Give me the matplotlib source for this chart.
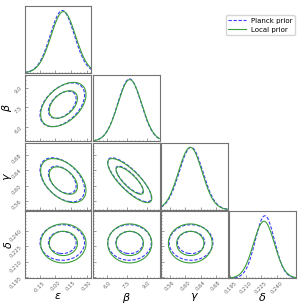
import numpy as np
import matplotlib
matplotlib.use('Agg')
import matplotlib.pyplot as plt
from matplotlib.ticker import AutoMinorLocator
from matplotlib.lines import Line2D

# Parameters and posterior summaries
labels = [r'$\varepsilon$', r'$\beta$', r'$\gamma$', r'$\delta$']
planck_mean = [0.066, 7.70, 0.615, 0.2285]
planck_std = [0.115, 0.90, 0.031, 0.0093]
local_mean = [0.076, 7.72, 0.613, 0.2276]
local_std = [0.117, 0.91, 0.031, 0.0102]
# pairwise correlations (i, j, rho)
corr_pairs = [(0, 1, 0.45), (0, 2, -0.45), (1, 2, -0.80),
              (0, 3, 0.0), (1, 3, 0.0), (2, 3, 0.0)]
axis_lo = [-0.29, 4.92, 0.537, 0.194]
axis_hi = [0.345, 10.0, 0.711, 0.2586]
tick_vals = [[-0.15, 0.00, 0.15, 0.30],
             [6.0, 7.5, 9.0],
             [0.56, 0.60, 0.64, 0.68],
             [0.195, 0.210, 0.225, 0.240]]
tick_fmt = ['%.2f', '%.1f', '%.2f', '%.3f']
levels_r = [1.15, 1.85]

series = [
    dict(name='Planck prior', mean=planck_mean, std=planck_std,
         color='#3b3bff', ls=(0, (3, 1.5)), lw=0.8),
    dict(name='Local prior', mean=local_mean, std=local_std,
         color='#3a9e3a', ls='-', lw=0.8),
]
rho = {}
for i, j, r in corr_pairs:
    rho[(i, j)] = r
    rho[(j, i)] = r

n = len(labels)
fig = plt.figure(figsize=(3.05, 3.07), dpi=100)
axes = fig.subplots(n, n, gridspec_kw=dict(left=0.082, right=0.970, bottom=0.094,
                                           top=0.980, wspace=0.025, hspace=0.025))

for row in range(n):
    for col in range(n):
        ax = axes[row, col]
        if col > row:
            ax.set_visible(False)
            continue
        for sp in ax.spines.values():
            sp.set_color('0.45')
            sp.set_linewidth(0.8)
        ax.tick_params(which='both', direction='in', labelsize=3.8,
                       labelcolor='0.4', color='0.45', width=0.5, pad=1.5)
        ax.tick_params(which='major', length=2)
        ax.tick_params(which='minor', length=1)

        if col == row:
            # 1D marginal
            x = np.linspace(axis_lo[col], axis_hi[col], 300)
            ymax = 0
            for s in series:
                m, sd = s['mean'][col], s['std'][col]
                y = np.exp(-0.5 * ((x - m) / sd) ** 2) / sd
                ymax = max(ymax, y.max())
                ax.plot(x, y, color=s['color'], ls=s['ls'], lw=s['lw'])
            ax.set_ylim(0, 1.07 * ymax)
            ax.set_yticks([])
        else:
            # 2D contours
            x = np.linspace(axis_lo[col], axis_hi[col], 200)
            y = np.linspace(axis_lo[row], axis_hi[row], 200)
            X, Y = np.meshgrid(x, y)
            r = rho[(col, row)]
            for s in series:
                u = (X - s['mean'][col]) / s['std'][col]
                v = (Y - s['mean'][row]) / s['std'][row]
                chi2 = (u ** 2 - 2 * r * u * v + v ** 2) / (1 - r ** 2)
                ax.contour(X, Y, chi2, levels=[l ** 2 for l in levels_r],
                           colors=s['color'], linewidths=s['lw'],
                           linestyles=[s['ls']])
            ax.set_ylim(axis_lo[row], axis_hi[row])
            ax.set_yticks(tick_vals[row])
            ax.yaxis.set_minor_locator(AutoMinorLocator(5))
            if col == 0:
                ax.set_yticklabels([tick_fmt[row] % t for t in tick_vals[row]],
                                   rotation=45)
                ax.set_ylabel(labels[row], fontsize=8)
                ax.yaxis.set_label_coords(-0.17, 0.5)
            else:
                ax.set_yticklabels([])

        ax.set_xlim(axis_lo[col], axis_hi[col])
        ax.set_xticks(tick_vals[col])
        ax.xaxis.set_minor_locator(AutoMinorLocator(5))
        if row == n - 1:
            ax.set_xticklabels([tick_fmt[col] % t for t in tick_vals[col]],
                               rotation=45)
            ax.set_xlabel(labels[col], fontsize=8)
            ax.xaxis.set_label_coords(0.5, -0.2)
        else:
            ax.set_xticklabels([])

handles = [Line2D([], [], color=s['color'], ls=s['ls'], lw=s['lw']) for s in series]
fig.legend(handles, [s['name'] for s in series], loc='upper right',
           bbox_to_anchor=(0.978, 0.962), fontsize=5, frameon=True,
           handlelength=2.6, borderpad=0.4, labelspacing=0.4, handletextpad=0.6)

fig.savefig('out.png', dpi=100)
